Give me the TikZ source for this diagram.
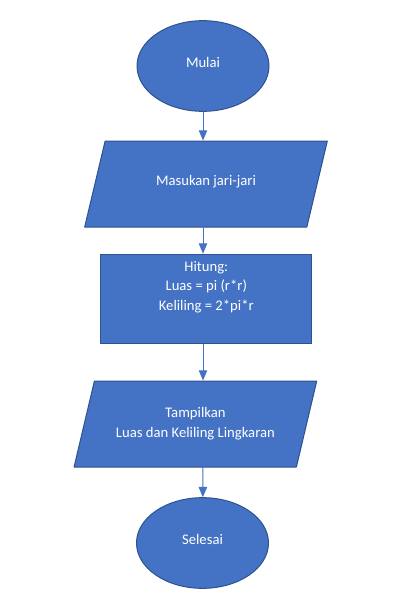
\documentclass[tikz,border=0pt]{standalone}
\usepackage{fontspec}
\setmainfont{Carlito}
\usepackage{tikz}
\usetikzlibrary{shapes.geometric}
\usetikzlibrary{arrows}
\definecolor{officeblue}{HTML}{4472C4}
\definecolor{officeedge}{HTML}{2F528F}

\begin{document}
\begin{tikzpicture}[line cap=round,line join=round,>=triangle 45,x=0.75pt,y=-0.75pt,
  terminal/.style={ellipse,draw=officeedge,fill=officeblue,line width=0.75pt,inner sep=0pt,
    minimum width=99pt,minimum height=68pt,text=white,text height=8pt,text depth=6pt,
    font=\fontsize{11}{15}\selectfont},
  iobox/.style={trapezium,trapezium left angle=76.6,trapezium right angle=103.4,
    trapezium stretches body=true,draw=officeedge,fill=officeblue,line width=0.75pt,
    inner xsep=0pt,minimum width=182pt,minimum height=64.5pt,text=white,align=center,
    font=\fontsize{11}{15}\selectfont},
  procbox/.style={rectangle,draw=officeedge,fill=officeblue,line width=0.75pt,
    minimum width=158.5pt,minimum height=67.3pt},
  boxtext/.style={text=white,align=center,font=\fontsize{11}{14.6}\selectfont},
  flow/.style={->,draw=officeblue,line width=0.75pt}]
\useasboundingbox (0,0) rectangle (414,607);

\node[terminal] (mulai) at (203,66) {Mulai};
\node[iobox,text height=8pt,text depth=6pt,inner ysep=25.25pt] (masukan) at (206,184) {Masukan jari-jari};
\node[procbox] (hitung) at (206.3,299) {};
\node[boxtext] (hitungtxt) at (206.3,287) {Hitung:\\Luas = pi (r*r)\\Keliling = 2*pi*r};
\node[iobox,inner ysep=19.75pt] (tampilkan) at (195.4,424) {Tampilkan\\Luas dan Keliling Lingkaran};
\node[terminal] (selesai) at (202.5,543) {Selesai};

\draw[flow] (mulai) -- (mulai |- masukan.north);
\draw[flow] (mulai |- masukan.south) -- (mulai |- hitung.north);
\draw[flow] (mulai |- hitung.south) -- (mulai |- tampilkan.north);
\draw[flow] (mulai |- tampilkan.south) -- (selesai);

\end{tikzpicture}
\end{document}
